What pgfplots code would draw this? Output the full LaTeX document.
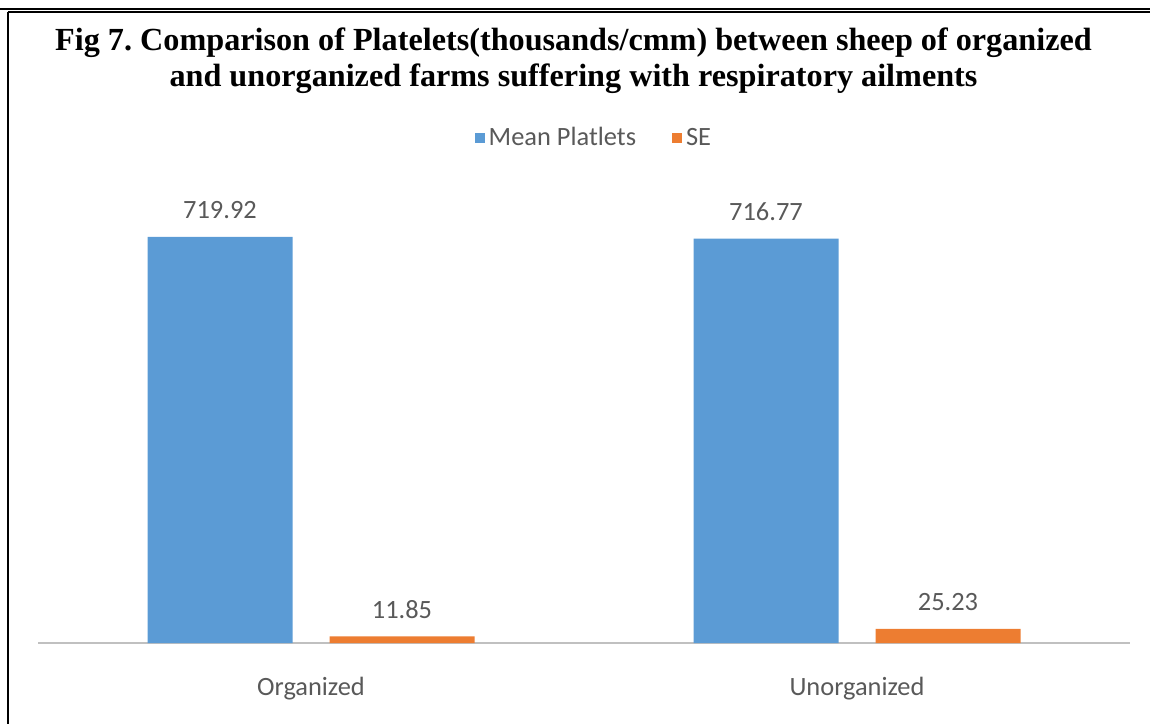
\documentclass[border=0pt]{standalone}
\usepackage{pgfplots}
\pgfplotsset{compat=1.18}
\usepackage{fontspec}
\setmainfont{Carlito}
\newfontfamily\timesfont{Liberation Serif}
\definecolor{cblue}{HTML}{5B9BD5}
\definecolor{corange}{HTML}{ED7D31}
\definecolor{ctext}{HTML}{595959}
\definecolor{caxis}{HTML}{C0C0C0}
\frenchspacing
\begin{document}
\begin{tikzpicture}
\path[use as bounding box] (-19pt,-40.5pt) rectangle (556pt,321.5pt);
\begin{axis}[
  scale only axis,
  width=546pt, height=225.6pt,
  xmin=-0.5, xmax=1.5,
  ymin=0, ymax=800,
  axis y line=none,
  axis x line*=bottom,
  x axis line style={draw=caxis, line width=1pt, -},
  xtick={0,1},
  xticklabels={Organized,Unorganized},
  major tick length=0pt,
  xticklabel style={anchor=base, yshift=-26pt, font=\fontsize{13.2}{16}\selectfont, text=ctext, inner sep=0pt},
  ytick=\empty,
  bar width=72.5pt,
  nodes near coords,
  nodes near coords style={anchor=base, yshift=9pt, inner sep=0pt, font=\fontsize{13.2}{16}\selectfont, text=ctext,
    /pgf/number format/fixed, /pgf/number format/fixed zerofill, /pgf/number format/precision=2,
    /pgf/number format/assume math mode=true},
  legend style={at={(0.51,1.119)}, anchor=center, draw=none, fill=none,
    legend columns=2, inner sep=0pt,
    font=\fontsize{13.2}{16}\selectfont, text=ctext,
    nodes={inner xsep=2pt, inner ysep=0pt},
    /tikz/every even column/.append style={column sep=16pt}},
  legend image code/.code={\fill[#1] (0pt,-2.5pt) rectangle (5pt,2.5pt);},
  clip=false,
]
\addplot[ybar, bar shift=-45.5pt, fill=cblue, draw=none,
  every node near coord/.append style={/tikz/xshift=-45.5pt}] coordinates {(0,719.92) (1,716.77)};
\addlegendentry{Mean Platlets}
\addplot[ybar, bar shift=45.5pt, fill=corange, draw=none,
  every node near coord/.append style={/tikz/xshift=45.5pt}] coordinates {(0,11.85) (1,25.23)};
\addlegendentry{SE}
\end{axis}
% title
\node[anchor=base, font=\timesfont\bfseries\fontsize{16.1}{19}\selectfont] at (267.75pt,296pt)
  {Fig 7. Comparison of Platelets(thousands/cmm) between sheep of organized};
\node[anchor=base, font=\timesfont\bfseries\fontsize{16.1}{19}\selectfont] at (267.75pt,278pt)
  {and unorganized farms suffering with respiratory ailments};
% frame
\draw[line width=1pt] (-19pt,317pt) -- (556pt,317pt);
\draw[line width=1pt] (-15pt,315.3pt) -- (556pt,315.3pt);
\draw[line width=1pt] (-14.75pt,315.3pt) -- (-14.75pt,-40.5pt);
\end{tikzpicture}
\end{document}
